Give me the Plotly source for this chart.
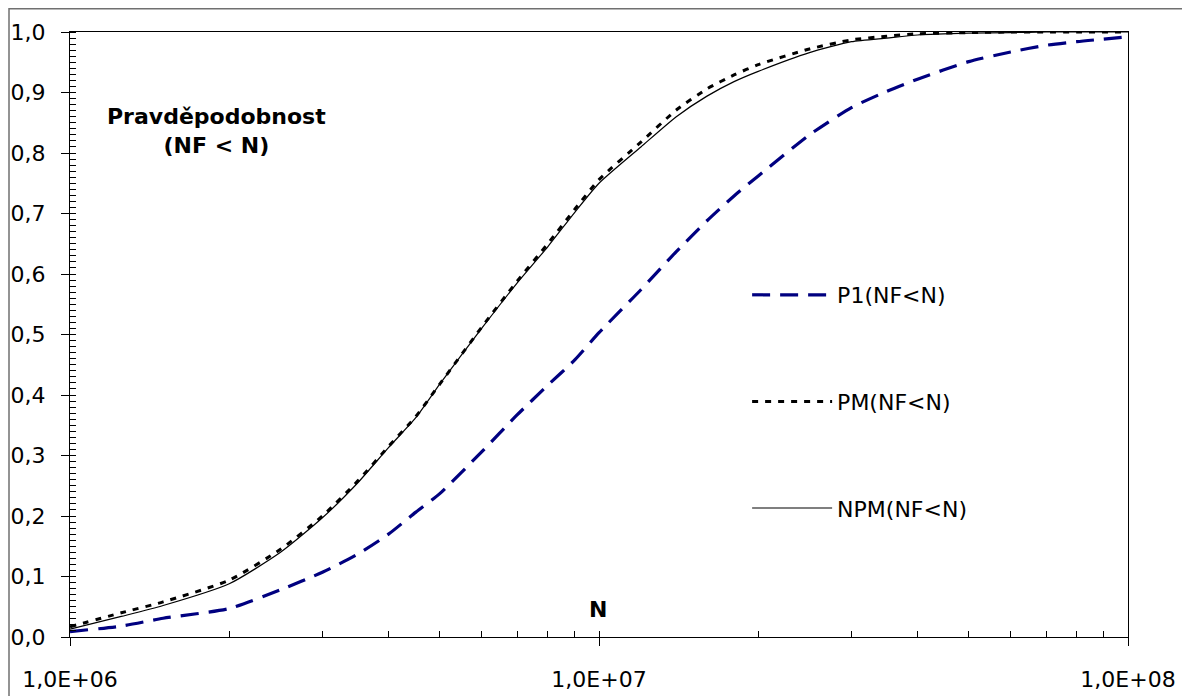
import plotly.graph_objects as go

# ---- data ----
N = [1.0e6, 1.25e6, 1.5e6, 2.0e6, 2.5e6, 3.0e6, 3.5e6, 4.0e6, 4.5e6, 5.0e6,
     6.0e6, 7.0e6, 8.0e6, 9.0e6, 1.0e7, 1.2e7, 1.4e7, 1.6e7, 1.8e7, 2.0e7,
     2.5e7, 3.0e7, 3.5e7, 4.0e7, 5.0e7, 6.0e7, 7.0e7, 8.0e7, 1.0e8]

P1 = [0.009, 0.018, 0.031, 0.047, 0.078, 0.107, 0.137, 0.170, 0.206, 0.237,
      0.306, 0.367, 0.416, 0.458, 0.503, 0.574, 0.637, 0.688, 0.729, 0.762,
      0.830, 0.875, 0.902, 0.922, 0.951, 0.967, 0.978, 0.984, 0.992]

PM = [0.017, 0.040, 0.058, 0.094, 0.145, 0.200, 0.258, 0.315, 0.364, 0.418,
      0.512, 0.588, 0.650, 0.707, 0.756, 0.818, 0.871, 0.906, 0.929, 0.946,
      0.972, 0.987, 0.993, 0.997, 0.999, 1.000, 1.000, 1.000, 1.000]

NPM = [0.013, 0.034, 0.052, 0.088, 0.140, 0.197, 0.255, 0.313, 0.362, 0.418,
       0.510, 0.585, 0.645, 0.702, 0.750, 0.810, 0.860, 0.894, 0.918, 0.935,
       0.966, 0.984, 0.990, 0.995, 0.998, 0.999, 1.000, 1.000, 1.000]

x_tickvals = [1e6, 1e7, 1e8]
x_ticktext = ["1,0E+06", "1,0E+07", "1,0E+08"]
x_minor = [k * 10**e for e in (6, 7) for k in range(2, 10)] + [1e7]

FONT = "DejaVu Sans, Liberation Sans, Arial, sans-serif"
FS = 22

# plot area in figure pixels (page body adds an 8px offset)
W, H = 1182, 688
L, R, T, B = 62, 1120, 24, 629
PW, PH = R - L, B - T

fig = go.Figure()
fig.add_trace(go.Scatter(x=N, y=P1, mode="lines", name="P1(NF<N)", legendgroup="a",
                         line=dict(color="#000080", width=3.2, dash="18px,10px",
                                   shape="spline", smoothing=0.6)))
fig.add_trace(go.Scatter(x=N, y=PM, mode="lines", name="PM(NF<N)", legendgroup="b",
                         line=dict(color="black", width=3, dash="6px,7px",
                                   shape="spline", smoothing=0.6)))
fig.add_trace(go.Scatter(x=N, y=NPM, mode="lines", name="NPM(NF<N)", legendgroup="c",
                         line=dict(color="black", width=1.2,
                                   shape="spline", smoothing=0.6)))

fig.update_layout(
    width=W, height=H,
    margin=dict(l=L, r=W - R, t=T, b=H - B),
    paper_bgcolor="white", plot_bgcolor="white",
    separators=",.",
    font=dict(family=FONT, size=FS, color="black"),
    showlegend=True,
    legend=dict(x=0.640, y=0.6, xanchor="left", yanchor="top",
                bgcolor="rgba(0,0,0,0)", itemwidth=80, tracegroupgap=75,
                font=dict(family=FONT, size=FS, color="black")),
    xaxis=dict(type="log", range=[6, 8], tickmode="array",
               tickvals=x_tickvals, ticktext=x_ticktext, automargin=False,
               ticks="outside", ticklen=8, tickwidth=1.2, tickcolor="black",
               showline=True, linecolor="black", linewidth=1.2, mirror=True,
               showgrid=False, zeroline=False, ticklabelstandoff=14,
               minor=dict(tickmode="array", tickvals=x_minor, ticks="inside",
                          ticklen=6, tickwidth=1, tickcolor="black", showgrid=False),
               tickfont=dict(family=FONT, size=FS, color="black")),
    yaxis=dict(range=[0, 1], dtick=0.1, tickformat=".1f", automargin=False,
               ticks="outside", ticklen=8, tickwidth=1.2, tickcolor="black",
               showline=True, linecolor="black", linewidth=1.2, mirror=True,
               showgrid=False, zeroline=False, ticklabelstandoff=11,
               minor=dict(dtick=0.01, ticks="inside", ticklen=6, tickwidth=1,
                          tickcolor="black", showgrid=False),
               tickfont=dict(family=FONT, size=FS, color="black")),
)

fig.add_annotation(text="<b>Pravděpodobnost</b><br><b>(NF < N)</b>",
                   xref="paper", yref="paper", x=(216 - 70) / PW, y=(637 - 131) / PH,
                   xanchor="center", yanchor="middle", showarrow=False,
                   font=dict(family=FONT, size=FS, color="black"))
fig.add_annotation(text="<b>N</b>", xref="paper", yref="paper",
                   x=(598 - 70) / PW, y=(637 - 609) / PH,
                   xanchor="center", yanchor="middle", showarrow=False,
                   font=dict(family=FONT, size=FS, color="black"))

# outer chart frame (left/top edges visible, right/bottom run off the page)
fig.add_shape(type="rect", xref="paper", yref="paper",
              x0=(1 - L) / PW, x1=(W + 20 - L) / PW,
              y0=(B - (H + 20)) / PH, y1=(B - 0.75) / PH,
              line=dict(color="#707070", width=1.5), layer="below")

fig.write_html("out.html")
